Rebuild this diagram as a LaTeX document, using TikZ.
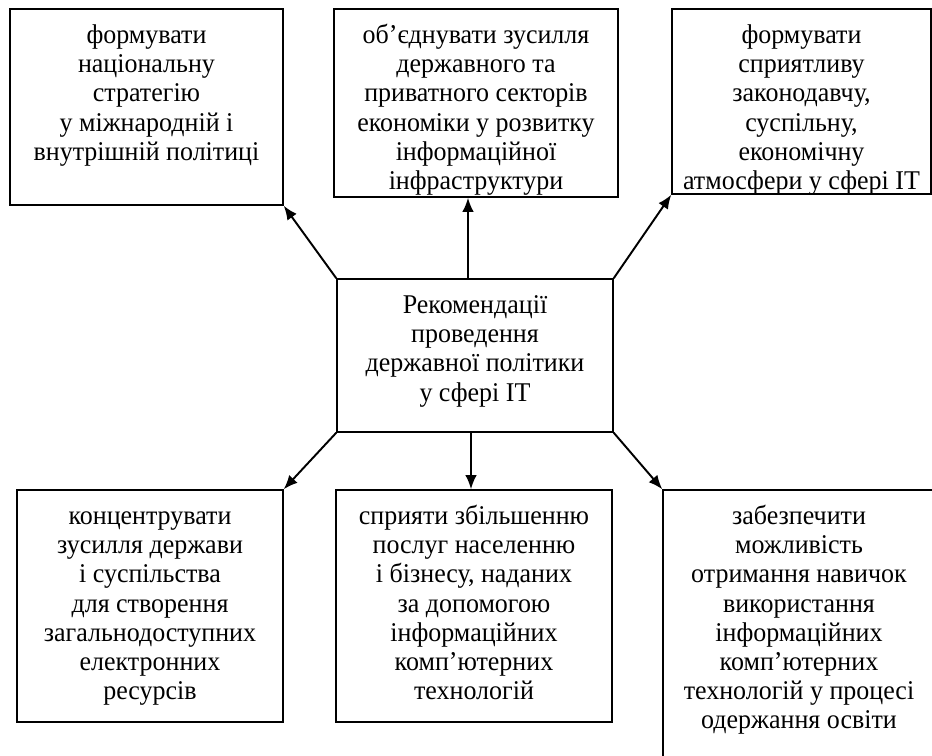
\documentclass[tikz,border=0pt]{standalone}
\usepackage{fontspec}
\setmainfont{Liberation Serif}[FakeStretch=0.96]
\usetikzlibrary{positioning}
\usetikzlibrary{arrows.meta}

% box of fixed size, lines set from the top
\newcommand{\celltext}[3]{\parbox[c][#2][t]{#1}{\centering\rule{0pt}{0.69cm}#3}}

\begin{document}
\begin{tikzpicture}[
    block/.style={
        draw,
        line width=0.8pt,
        inner sep=0pt,
        font=\fontsize{15.4}{16.6}\selectfont,
    },
    connector/.style={draw, line width=1.1pt, -{Latex[length=8pt,width=6.5pt]}}
]
\useasboundingbox (0,0) rectangle (18.64,15.12);

\node[block] (rec) at (9.50,8.01)
    {\celltext{5.52cm}{3.06cm}{Рекомендації\\проведення\\державної політики\\у сфері IT}};

\node[block] (strategy) at (2.93,12.98)
    {\celltext{5.46cm}{3.92cm}{формувати\\національну\\стратегію\\у міжнародній і\\внутрішній політиці}};
\node[block] (sectors) at (9.52,13.06)
    {\celltext{5.68cm}{3.76cm}{об’єднувати зусилля\\державного та\\приватного секторів\\економіки у розвитку\\інформаційної\\інфраструктури}};
\node[block] (climate) at (16.03,13.09)
    {\celltext{5.18cm}{3.70cm}{формувати\\сприятливу\\законодавчу,\\суспільну,\\економічну\\атмосфери у сфері IT}};

\node[block] (resources) at (3.00,3.00)
    {\celltext{5.32cm}{4.64cm}{концентрувати\\зусилля держави\\і суспільства\\для створення\\загальнодоступних\\електронних\\ресурсів}};
\node[block] (services) at (9.48,3.00)
    {\celltext{5.52cm}{4.64cm}{сприяти збільшенню\\послуг населенню\\і бізнесу, наданих\\за допомогою\\інформаційних\\комп’ютерних\\технологій}};
\node[block] (skills) at (15.98,2.56)
    {\celltext{5.44cm}{5.52cm}{забезпечити\\можливість\\отримання навичок\\використання\\інформаційних\\комп’ютерних\\технологій у процесі\\одержання освіти}};

\draw[connector] (rec.north west) -- (strategy.south east);
\draw[connector] ([xshift=-0.14cm]rec.north) -- ([xshift=-0.14cm]rec.north |- sectors.south);
\draw[connector] (rec.north east) -- (climate.south west);
\draw[connector] (rec.south west) -- (resources.north east);
\draw[connector] ([xshift=-0.08cm]rec.south) -- ([xshift=-0.08cm]rec.south |- services.north);
\draw[connector] (rec.south east) -- (skills.north west);

\end{tikzpicture}
\end{document}
